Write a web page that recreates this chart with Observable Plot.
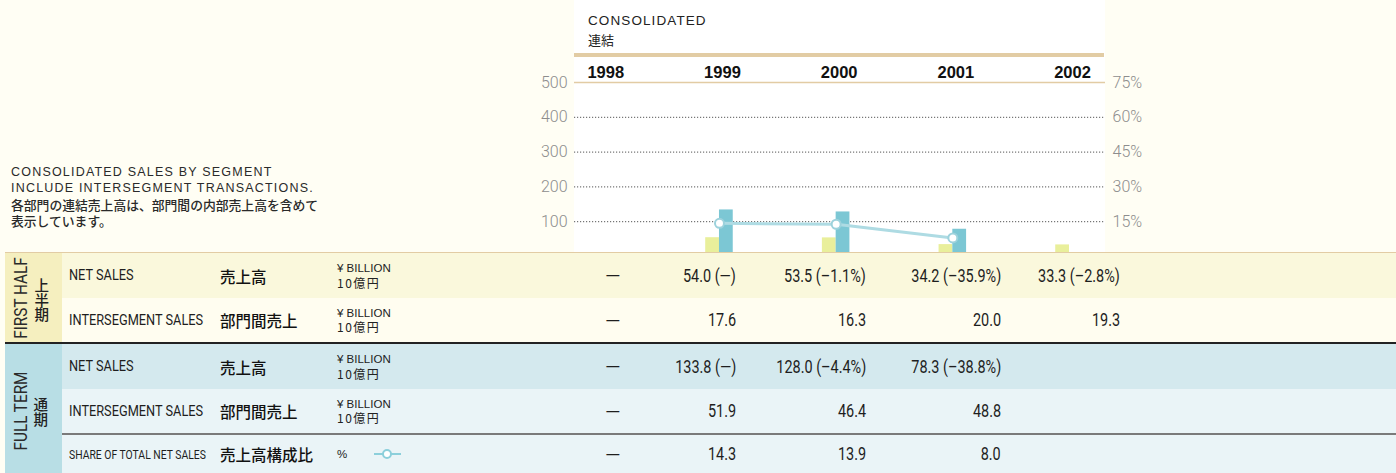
<!DOCTYPE html>
<html>
<head>
<meta charset="utf-8">
<script src="https://cdn.jsdelivr.net/npm/d3@7"></script>
<script src="https://cdn.jsdelivr.net/npm/@observablehq/plot@0.6"></script>
<style>
  html, body { margin: 0; padding: 0; background: #fffef4; }
  #root { position: relative; width: 1396px; height: 473px; overflow: hidden; background: #fffef4; font-family: 'Liberation Sans', Arial, sans-serif; }
  .abs { position: absolute; }
  .jp { font-family: 'Noto Sans CJK JP', sans-serif; }
  .row { position: absolute; left: 62px; width: 1334px; }
  .cell { position: absolute; top: 0; height: 100%; display: flex; align-items: center; white-space: nowrap; }
  .nl { font-family: Roboto, sans-serif; display: inline-block; transform-origin: left center; }
  .nr { font-family: Roboto, sans-serif; display: inline-block; transform-origin: right center; }
</style>
</head>
<body>
<div id="root"></div>
<script>
// ---------- data ----------
const years = [1998, 1999, 2000, 2001, 2002];
const firstHalfNet = [null, 54.0, 53.5, 34.2, 33.3];
const firstHalfNetChange = [null, null, -1.1, -35.9, -2.8];
const firstHalfInter = [null, 17.6, 16.3, 20.0, 19.3];
const fullNet = [null, 133.8, 128.0, 78.3, null];
const fullNetChange = [null, null, -4.4, -38.8, null];
const fullInter = [null, 51.9, 46.4, 48.8, null];
const share = [null, 14.3, 13.9, 8.0, null];
const leftTicks = [100, 200, 300, 400, 500];
const gridTicks = [100, 200, 300, 400];

const root = document.getElementById("root");

function el(html) { const d = document.createElement("div"); d.innerHTML = html; const n = d.firstElementChild; root.appendChild(n); return n; }

// white plot column + header decoration
el(`<div class="abs" style="left:574px;top:0;width:531px;height:252px;background:#fff"></div>`);
el(`<div class="abs" style="left:574px;top:53px;width:530px;height:4px;background:#e2cca4"></div>`);
el(`<div class="abs" style="left:588px;top:11px;color:#222;line-height:19px">
  <div style="font-size:13.5px;letter-spacing:1.1px">CONSOLIDATED</div>
  <div class="jp" style="font-size:13px">連結</div></div>`);

// left note
el(`<div class="abs" style="left:11px;top:165px;color:#2a2a2a;line-height:15.6px">
  <div style="font-size:12.5px;letter-spacing:1.2px">CONSOLIDATED SALES BY SEGMENT</div>
  <div style="font-size:12.5px;letter-spacing:1.2px">INCLUDE INTERSEGMENT TRANSACTIONS.</div>
  <div class="jp" style="font-size:12.8px;font-weight:500;line-height:16px;margin-top:1px">各部門の連結売上高は、部門間の内部売上高を含めて</div>
  <div class="jp" style="font-size:12.8px;font-weight:500;line-height:16px">表示しています。</div></div>`);

// ---------- chart ----------
const barW = 0.118;
const yellowBars = years.map((year, i) => ({year, v: firstHalfNet[i]})).filter(d => d.v != null);
const blueBars = years.map((year, i) => ({year, v: fullNet[i]})).filter(d => d.v != null);
const shareData = years.map((year, i) => ({year, v: share[i]})).filter(d => d.v != null);
const toLeft = p => p * 500 / 75;
const tickFont = "Roboto, sans-serif";

const chart = Plot.plot({
  width: 1396,
  height: 256,
  marginLeft: 574,
  marginRight: 291,
  marginTop: 82,
  marginBottom: 0,
  style: {background: "transparent", fontFamily: tickFont, fontSize: "16px", overflow: "visible"},
  x: {domain: [1998, 2002], range: [602.3, 1069]},
  y: {domain: [0, 500]},
  marks: [
    Plot.gridY(gridTicks, {stroke: "#555", strokeOpacity: 1, strokeDasharray: "1.2,1.8"}),
    Plot.ruleY([500], {stroke: "#e2cca4", strokeWidth: 1.5}),
    Plot.axisY({anchor: "left", label: null, ticks: leftTicks, tickSize: 0, tickPadding: 7, fill: "#8d8d8d", fontSize: 16, fontWeight: 300, fontFamily: tickFont}),
    Plot.axisY({anchor: "right", label: null, ticks: leftTicks, tickSize: 0, tickPadding: 7, tickFormat: d => (d * 75 / 500) + "%", fill: "#8d8d8d", fontSize: 16, fontWeight: 300, fontFamily: tickFont}),
    Plot.axisX({anchor: "top", label: null, ticks: years, tickSize: 0, tickPadding: 5, tickFormat: d => String(d), fill: "#111", fontSize: 16.5, fontWeight: "bold", fontFamily: "'Liberation Sans', Arial, sans-serif", dx: 3}),
    Plot.rectY(yellowBars, {x1: d => d.year - barW, x2: d => d.year, y: "v", fill: "#e9ef9b"}),
    Plot.rectY(blueBars, {x1: d => d.year, x2: d => d.year + barW, y: "v", fill: "#7cc7d4"}),
    Plot.line(shareData, {x: "year", y: d => toLeft(d.v), stroke: "#aedbe3", strokeWidth: 3}),
    Plot.dot(shareData, {x: "year", y: d => toLeft(d.v), r: 4.5, fill: "white", stroke: "#9dd2dc", strokeWidth: 2})
  ]
});
chart.style.position = "absolute";
chart.style.left = "0px";
chart.style.top = "0px";
root.appendChild(chart);

// ---------- table ----------
const fmt = v => v.toFixed(1);
const chg = c => c == null ? "(—)" : "(" + (c < 0 ? "–" : "") + Math.abs(c).toFixed(1) + "%)";
const withChange = (vals, chgs) => vals.map((v, i) => i === 0 ? "—" : v == null ? "" : fmt(v) + " " + chg(chgs[i]));
const plain = vals => vals.map((v, i) => i === 0 ? "—" : v == null ? "" : fmt(v));

const unitBillion = `<div style="font-size:11.5px;line-height:13.5px;color:#222;margin-top:1px"><div>¥ BILLION</div><div class="jp" style="letter-spacing:1.5px;font-size:12px;line-height:14px">10億円</div></div>`;
const unitPct = `<div style="font-size:11.5px;color:#222;display:flex;align-items:center">%<svg width="30" height="12" style="margin-left:26px"><line x1="1" y1="6" x2="28" y2="6" stroke="#8ccfdb" stroke-width="2"/><circle cx="14" cy="6" r="4" fill="#fff" stroke="#8ccfdb" stroke-width="2"/></svg></div>`;

const rows = [
  {top: 253, h: 45, bg: "#faf8dc", label: "NET SALES", jp: "売上高", unit: unitBillion, vals: withChange(firstHalfNet, firstHalfNetChange)},
  {top: 298, h: 44, bg: "#fffdf0", label: "INTERSEGMENT SALES", jp: "部門間売上", unit: unitBillion, vals: plain(firstHalfInter)},
  {top: 344, h: 45, bg: "#d4e9ee", label: "NET SALES", jp: "売上高", unit: unitBillion, vals: withChange(fullNet, fullNetChange)},
  {top: 389, h: 44, bg: "#eaf4f7", label: "INTERSEGMENT SALES", jp: "部門間売上", unit: unitBillion, vals: plain(fullInter)},
  {top: 435, h: 38, bg: "#eaf4f7", label: "SHARE OF TOTAL NET SALES", jp: "売上高構成比", unit: unitPct, vals: plain(share), small: true}
];
const valRight = [null, 736, 866, 1001, 1120];

rows.forEach(r => {
  const row = el(`<div class="row" style="top:${r.top}px;height:${r.h}px;background:${r.bg}"></div>`);
  let html = `<div class="cell" style="left:7px;color:#1e1e1e"><span class="nl" style="font-size:${r.small ? 12.5 : 14.5}px;transform:scaleX(${r.small ? 0.83 : 0.88})">${r.label}</span></div>`;
  html += `<div class="cell jp" style="left:158px;font-size:15.5px;font-weight:500;color:#111">${r.jp}</div>`;
  html += `<div class="cell" style="left:275px">${r.unit}</div>`;
  html += `<div class="cell" style="left:${592 - 62}px;width:40px;justify-content:center;color:#1e1e1e"><span class="nl" style="font-size:18px;transform:scaleX(1.1)">${r.vals[0]}</span></div>`;
  for (let i = 1; i < years.length; i++) {
    html += `<div class="cell" style="left:${valRight[i] - 62 - 160}px;width:160px;justify-content:flex-end;color:#1e1e1e"><span class="nr" style="font-size:18.5px;transform:scaleX(0.78)">${r.vals[i]}</span></div>`;
  }
  row.innerHTML = html;
});

// side columns
el(`<div class="abs" style="left:5px;top:253px;width:57px;height:89px;background:#f5efbf"></div>`);
el(`<div class="abs" style="left:5px;top:344px;width:57px;height:129px;background:#b8dee5"></div>`);
el(`<div class="abs" style="left:5px;top:252px;width:1391px;height:1px;background:#e2cca4"></div>`);
el(`<div class="abs" style="left:5px;top:342px;width:1391px;height:2px;background:#222"></div>`);
el(`<div class="abs" style="left:62px;top:433px;width:1334px;height:2px;background:#7a7a7a"></div>`);

el(`<div class="abs" style="left:19.5px;top:298px;transform:translate(-50%,-50%) rotate(-90deg) scaleX(0.85);font-family:Roboto,sans-serif;font-size:18px;color:#2a2a2a;white-space:nowrap">FIRST HALF</div>`);
el(`<div class="abs jp" style="left:41px;top:300px;transform:translate(-50%,-50%);writing-mode:vertical-rl;font-size:14.5px;font-weight:500;color:#222;line-height:1">上半期</div>`);
el(`<div class="abs" style="left:19.5px;top:411px;transform:translate(-50%,-50%) rotate(-90deg) scaleX(0.85);font-family:Roboto,sans-serif;font-size:18px;color:#2a2a2a;white-space:nowrap">FULL TERM</div>`);
el(`<div class="abs jp" style="left:40px;top:412px;transform:translate(-50%,-50%);writing-mode:vertical-rl;font-size:14.5px;font-weight:500;color:#222;line-height:1">通期</div>`);
</script>
</body>
</html>
